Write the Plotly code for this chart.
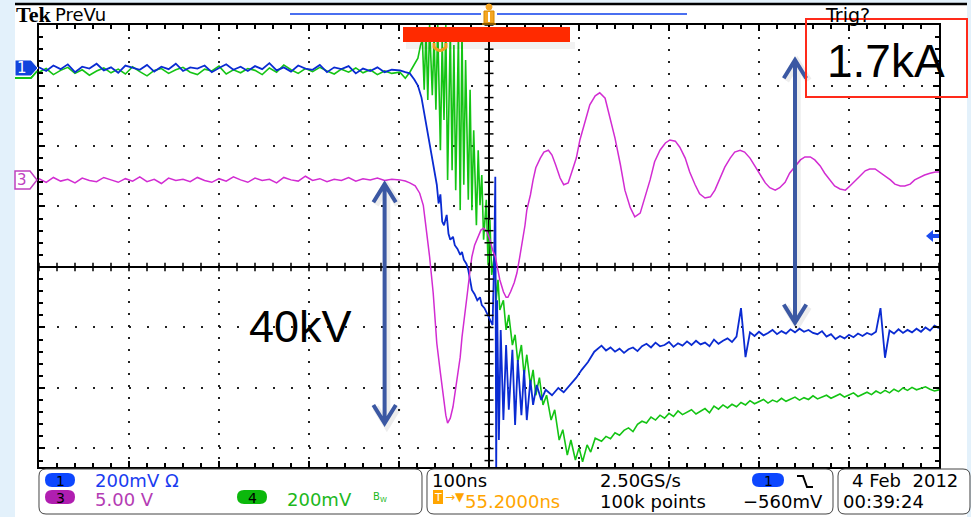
import plotly.graph_objects as go

# ---------------- data: time in ns from screen centre, amplitude in screen divisions ----------------
t_base = list(range(-500, -100, 8))
ch1_base = [3.30, 3.24, 3.33, 3.27, 3.35, 3.22, 3.31, 3.28, 3.36, 3.25,
            3.30, 3.21, 3.33, 3.29, 3.26, 3.34, 3.23, 3.31, 3.27, 3.36,
            3.24, 3.30, 3.28, 3.33, 3.22, 3.29, 3.35, 3.26, 3.31, 3.24,
            3.32, 3.27, 3.37, 3.25, 3.30, 3.23, 3.33, 3.28, 3.26, 3.34,
            3.22, 3.30, 3.27, 3.32, 3.20, 3.28, 3.24, 3.30, 3.22, 3.26]
ch4_base = [3.22, 3.28, 3.18, 3.25, 3.30, 3.20, 3.26, 3.17, 3.24, 3.29,
            3.21, 3.27, 3.19, 3.31, 3.23, 3.16, 3.25, 3.28, 3.20, 3.26,
            3.30, 3.22, 3.18, 3.27, 3.24, 3.32, 3.19, 3.26, 3.21, 3.28,
            3.25, 3.18, 3.29, 3.22, 3.34, 3.26, 3.20, 3.28, 3.23, 3.30,
            3.24, 3.19, 3.27, 3.22, 3.29, 3.21, 3.26, 3.18, 3.24, 3.20]
ch3_base = [1.46, 1.40, 1.48, 1.42, 1.45, 1.39, 1.47, 1.43, 1.41, 1.48,
            1.44, 1.40, 1.46, 1.42, 1.49, 1.41, 1.45, 1.38, 1.47, 1.43,
            1.45, 1.41, 1.48, 1.43, 1.40, 1.46, 1.42, 1.49, 1.44, 1.40,
            1.47, 1.43, 1.45, 1.39, 1.48, 1.44, 1.42, 1.50, 1.43, 1.46,
            1.41, 1.45, 1.43, 1.48, 1.42, 1.46, 1.44, 1.47, 1.43, 1.45]

ch1_t = [-99, -93, -88, -83, -79, -75, -72, -68, -62, -58,
         -56, -54, -52, -50, -47, -45, -43, -40, -38, -35,
         -32, -30, -28, -25, -23, -21, -19, -16, -13, -10,
         -8, -5, -3, -1, 1, 4, 6, 7, 8, 9,
         11, 13, 16, 19, 22, 26, 29, 32, 36, 39,
         42, 46, 49, 53, 58, 63, 70, 77, 83, 90,
         97, 103, 110, 117]
ch1_v = [3.25, 3.22, 3.20, 3.10, 3.00, 2.80, 2.55, 2.18, 1.69, 1.36,
         1.05, 1.20, 0.75, 0.69, 0.86, 0.55, 0.45, 0.50, 0.36, 0.30,
         0.20, 0.25, 0.12, 0.05, -0.05, -0.20, -0.38, -0.45, -0.55, -0.50,
         -0.63, -0.68, -0.74, -0.80, -0.88, -0.96, 0.33, 1.49, -3.40, -0.55,
         -2.86, -1.04, -2.53, -1.29, -2.36, -1.37, -2.61, -1.54, -2.45, -1.70,
         -2.53, -1.87, -2.28, -1.95, -2.20, -2.03, -2.12, -2.00, -2.07, -1.95,
         -1.83, -1.70, -1.57, -1.40]

ch4_t = [-99, -93, -88, -83, -79, -76, -74, -72, -70, -68,
         -66, -63, -61, -59, -57, -54, -52, -50, -48, -46,
         -43, -41, -39, -37, -34, -32, -30, -28, -26, -23,
         -21, -19, -17, -14, -12, -10, -8, -6, -3, -1,
         1, 3, 6, 8, 10, 12, 16, 19, 22, 26,
         29, 32, 36, 39, 42, 46, 49, 52, 56, 60,
         64, 69, 73, 78, 82, 87, 91, 96, 100, 104,
         109, 113, 118]
ch4_v = [3.22, 3.12, 3.22, 3.34, 3.45, 3.67, 3.75, 2.93, 3.92, 2.76,
         4.00, 2.84, 3.83, 2.60, 4.00, 1.93, 3.75, 2.43, 4.00, 1.44,
         3.92, 1.60, 3.67, 1.27, 3.83, 0.94, 3.92, 1.36, 3.42, 1.11,
         2.93, 0.94, 2.26, 0.69, 1.93, 1.02, 1.52, 0.45, 1.11, 0.03,
         0.78, -0.13, 0.20, -0.55, -0.21, -0.71, -0.55, -1.04, -0.79, -1.29,
         -1.12, -1.57, -1.29, -1.79, -1.45, -1.95, -1.70, -2.12, -1.83, -2.28,
         -2.12, -2.53, -2.36, -2.86, -2.69, -3.11, -2.86, -3.19, -2.99, -3.22,
         -2.94, -3.06, -2.83]

t_post = list(range(125, 501, 5))
ch1_post = [-1.30, -1.38, -1.33, -1.40, -1.35, -1.42, -1.36, -1.33, -1.39, -1.31,
            -1.27, -1.33, -1.25, -1.31, -1.29, -1.24, -1.32, -1.26, -1.30, -1.23,
            -1.29, -1.22, -1.28, -1.25, -1.31, -1.20, -1.27, -1.22, -1.18, -1.24,
            -1.15, -0.68, -1.49, -1.08, -1.14, -1.07, -1.13, -1.09, -1.04, -1.11,
            -1.06, -1.10, -1.03, -1.08, -1.02, -1.07, -1.04, -1.09, -1.11, -1.06,
            -1.15, -1.11, -1.19, -1.14, -1.18, -1.12, -1.16, -1.10, -1.14, -1.09,
            -1.12, -1.07, -0.68, -1.50, -1.05, -1.10, -1.03, -1.09, -1.04, -1.08,
            -1.02, -1.07, -1.00, -1.05, -0.97, -1.01]
ch4_post = [-2.88, -2.80, -2.84, -2.74, -2.78, -2.70, -2.66, -2.72, -2.60, -2.55,
            -2.58, -2.48, -2.53, -2.45, -2.50, -2.42, -2.47, -2.38, -2.44, -2.40,
            -2.36, -2.43, -2.38, -2.34, -2.41, -2.30, -2.35, -2.28, -2.33, -2.27,
            -2.31, -2.24, -2.28, -2.21, -2.26, -2.22, -2.19, -2.25, -2.20, -2.23,
            -2.17, -2.22, -2.18, -2.15, -2.20, -2.16, -2.19, -2.13, -2.18, -2.15,
            -2.12, -2.17, -2.14, -2.10, -2.15, -2.11, -2.08, -2.14, -2.10, -2.07,
            -2.11, -2.05, -2.09, -2.04, -2.08, -2.02, -2.06, -2.00, -2.04, -1.99,
            -2.03, -2.00, -1.98, -2.02, -2.05, -2.03]

ch3_t = [-99, -93, -88, -82, -77, -73, -71, -68, -66, -62,
         -60, -58, -54, -51, -48, -46, -43, -40, -37, -34,
         -32, -30, -27, -24, -21, -19, -16, -12, -9, -6,
         -2, 1, 4, 7, 10, 12, 16, 19, 21, 24,
         28, 31, 34, 37, 40, 42, 46, 49, 52, 57,
         61, 66, 70, 74, 79, 83, 88, 92, 97, 101,
         107, 112, 118, 123, 129, 134, 140, 146, 151, 157,
         162, 168, 173, 179, 184, 190, 196, 201, 207, 212,
         218, 223, 229, 234, 240, 246, 251, 257, 262, 268,
         273, 279, 284, 290, 296, 301, 307, 312, 318, 323,
         329, 334, 340, 346, 351, 357, 362, 368, 373, 379,
         384, 390, 396, 401, 407, 412, 418, 423, 429, 434,
         440, 446, 451, 457, 462, 468, 473, 479, 484, 490,
         496, 500]
ch3_v = [1.44, 1.42, 1.39, 1.34, 1.22, 1.02, 0.78, 0.45, 0.17, -0.43,
         -0.84, -1.26, -1.75, -2.15, -2.45, -2.58, -2.50, -2.31, -2.03, -1.75,
         -1.49, -1.16, -0.74, -0.43, -0.05, 0.17, 0.36, 0.50, 0.61, 0.64,
         0.58, 0.45, 0.28, 0.17, -0.05, -0.21, -0.41, -0.50, -0.50, -0.41,
         -0.26, -0.10, 0.15, 0.40, 0.69, 0.94, 1.19, 1.44, 1.64, 1.80,
         1.90, 1.93, 1.85, 1.69, 1.47, 1.36, 1.39, 1.57, 1.80, 2.10,
         2.43, 2.68, 2.83, 2.88, 2.79, 2.51, 2.13, 1.69, 1.27, 0.98,
         0.83, 0.89, 1.14, 1.44, 1.74, 1.93, 2.05, 2.10, 2.08, 1.98,
         1.80, 1.57, 1.36, 1.21, 1.14, 1.16, 1.27, 1.47, 1.65, 1.80,
         1.90, 1.93, 1.90, 1.80, 1.65, 1.52, 1.39, 1.31, 1.27, 1.31,
         1.40, 1.55, 1.67, 1.77, 1.82, 1.82, 1.77, 1.67, 1.55, 1.44,
         1.34, 1.29, 1.27, 1.34, 1.42, 1.50, 1.59, 1.62, 1.62, 1.57,
         1.50, 1.44, 1.37, 1.34, 1.34, 1.37, 1.44, 1.49, 1.52, 1.55,
         1.57, 1.57]

status_top = ["200mV Ω", "100ns", "2.50GS/s", "4 Feb  2012"]
status_bot = ["5.00 V", "200mV", "55.2000ns", "100k points", "−560mV", "00:39:24"]

# ---------------- geometry helpers (page pixels -> paper) ----------------
W, H = 971, 517
PX0, PX1, PY0, PY1 = 39, 939, 25, 467


def px(x):
    return x / W


def py(y):
    return 1 - y / H


def path_px(cmds):
    out = []
    for c in cmds:
        op, nums = c[0], c[1:]
        pts = []
        for i in range(0, len(nums), 2):
            pts.append(f"{px(nums[i]):.5f},{py(nums[i+1]):.5f}")
        out.append(op + " " + " ".join(pts))
    return " ".join(out)


def rrect(x0, y0, x1, y1, r):
    return [("M", x0 + r, y0), ("L", x1 - r, y0), ("Q", x1, y0, x1, y0 + r),
            ("L", x1, y1 - r), ("Q", x1, y1, x1 - r, y1), ("L", x0 + r, y1),
            ("Q", x0, y1, x0, y1 - r), ("L", x0, y0 + r), ("Q", x0, y0, x0 + r, y0), ("Z",)]


shapes = []
annotations = []


def add_path(cmds, fill=None, color=None, width=1, layer="above"):
    shapes.append(dict(type="path", xref="paper", yref="paper", path=path_px(cmds),
                       fillcolor=fill if fill else "rgba(0,0,0,0)",
                       line=dict(color=color if color else "rgba(0,0,0,0)", width=width),
                       layer=layer))


def add_rect(x0, y0, x1, y1, fill=None, color=None, width=1, layer="above"):
    shapes.append(dict(type="rect", xref="paper", yref="paper",
                       x0=px(x0), x1=px(x1), y0=py(y1), y1=py(y0),
                       fillcolor=fill if fill else "rgba(0,0,0,0)",
                       line=dict(color=color if color else "rgba(0,0,0,0)", width=width),
                       layer=layer))


def add_line(x0, y0, x1, y1, color, width, layer="above"):
    shapes.append(dict(type="line", xref="paper", yref="paper",
                       x0=px(x0), x1=px(x1), y0=py(y0), y1=py(y1),
                       line=dict(color=color, width=width), layer=layer))


def add_text(x, y, s, size, color="black", anchor="left", family="DejaVu Sans"):
    annotations.append(dict(x=px(x), y=py(y), xref="paper", yref="paper", text=s,
                            showarrow=False, xanchor=anchor, yanchor="middle",
                            font=dict(size=size, color=color, family=family),
                            borderpad=0))


# ---------------- figure ----------------
fig = go.Figure()

c1, c3, c4 = "#0a2bd2", "#d22cd2", "#14c414"
fig.add_trace(go.Scatter(x=t_base + ch4_t + t_post, y=ch4_base + ch4_v + ch4_post,
                         mode="lines", line=dict(color=c4, width=1.6), hoverinfo="skip"))
fig.add_trace(go.Scatter(x=t_base + ch1_t + t_post, y=ch1_base + ch1_v + ch1_post,
                         mode="lines", line=dict(color=c1, width=1.8), hoverinfo="skip"))
fig.add_trace(go.Scatter(x=t_base + ch3_t, y=ch3_base + ch3_v,
                         mode="lines", line=dict(color=c3, width=1.5), hoverinfo="skip"))

# light-blue page margins around the white scope screen
add_rect(0, 0, 15, 517, fill="#e3f1fb")
add_rect(967, 0, 971, 517, fill="#e3f1fb")
add_rect(0, 0, 971, 3, fill="#e3f1fb")

# centre-line minor ticks (graticule)
for k in range(-25, 26):
    shapes.append(dict(type="line", xref="x", yref="y", x0=k * 20, x1=k * 20, y0=-0.07, y1=0.07,
                       line=dict(color="black", width=1.5), layer="above"))
for k in range(-16, 21):
    shapes.append(dict(type="line", xref="x", yref="y", x0=-5, x1=5, y0=k * 0.2, y1=k * 0.2,
                       line=dict(color="black", width=1.5), layer="above"))

# header
add_line(15, 4, 967, 4, "black", 2.5)
add_text(15, 15, "<b>Tek</b>", 22, family="Liberation Serif")
add_text(54, 14, "PreVu", 18)
add_text(824, 15, "Trig?", 19)
add_line(290, 14, 481, 14, "#4a6ff0", 2)
add_line(497, 14, 687, 14, "#4a6ff0", 2)
shapes.append(dict(type="circle", xref="paper", yref="paper", x0=px(486), x1=px(492),
                   y0=py(10), y1=py(4), fillcolor="#f5a623", line=dict(color="#f5a623", width=1)))
add_rect(484, 11, 494, 23, fill="#f5a623", color="#d88a00", width=1)
add_line(489, 12, 489, 22, "white", 2)
add_line(482, 24, 496, 24, "#8a5a00", 2)

# red bar + shadow, trigger U marker
add_rect(406, 42, 575, 49, fill="rgba(0,0,0,0.05)")
add_rect(403, 27, 570, 42, fill="#ff2a00")
add_path([("M", 434, 43), ("L", 434, 47), ("Q", 440, 54, 446, 47), ("L", 446, 43)],
         color="#f0a020", width=3)

# channel markers on the left, trigger level arrow on the right
add_path([("M", 15, 78), ("L", 31, 78), ("L", 37, 71)], color="#14c414", width=2)
add_path([("M", 15, 60), ("L", 31, 60), ("L", 38, 68), ("L", 31, 76), ("L", 15, 76), ("Z",)],
         fill="#1144dd", color="white", width=1)
add_text(22, 68, "1", 15, "white", anchor="center")
add_path([("M", 15, 171), ("L", 30, 171), ("L", 37, 180), ("L", 30, 189), ("L", 15, 189), ("Z",)],
         fill="white", color="#c040c0", width=1.5)
add_text(22, 180, "3", 15, "#c040c0", anchor="center")
add_path([("M", 926, 236), ("L", 933, 230), ("L", 933, 242), ("Z",)], fill="#1a4cf0")
add_rect(932, 234, 939, 238, fill="#1a4cf0")

# annotation arrows (data coords) with soft shadow
arrow_col = "#3b58a3"
for (xa, ytop, ybot) in [(-116, 1.37, -2.58), (340, 3.42, -0.92)]:
    for off, col, w in [((2.5, -0.04), "rgba(0,0,0,0.07)", 7), ((0, 0), arrow_col, 4)]:
        dx, dy = off
        d = (f"M {xa+dx},{ytop+dy} L {xa+dx},{ybot+dy} "
             f"M {xa-12.5+dx},{ytop-0.30+dy} L {xa+dx},{ytop+dy} L {xa+12.5+dx},{ytop-0.30+dy} "
             f"M {xa-12.5+dx},{ybot+0.30+dy} L {xa+dx},{ybot+dy} L {xa+12.5+dx},{ybot+0.30+dy}")
        shapes.append(dict(type="path", xref="x", yref="y", path=d,
                           line=dict(color=col, width=w), layer="above"))

annotations.append(dict(x=-210, y=-0.99, xref="x", yref="y", text="40kV", showarrow=False,
                        font=dict(size=45, color="black", family="Liberation Sans"),
                        xanchor="center", yanchor="middle"))
add_rect(806, 19, 967, 97, color="#ff2a1a", width=2)
add_text(886, 61, "1.7kA", 46, anchor="center", family="Liberation Sans")

# status bar
add_path(rrect(39, 469, 422, 514, 7), fill="white", color="#444", width=1)
add_path(rrect(427, 469, 833, 514, 7), fill="white", color="#444", width=1)
add_path(rrect(838, 469, 970, 514, 7), fill="white", color="#444", width=1)
for (x0, y0, x1, y1, col, lab) in [(45, 473, 75, 487, "#0d47ff", "1"), (45, 490, 75, 504, "#b01eb0", "3"),
                                    (237, 490, 267, 504, "#0cb80c", "4"), (752, 473, 784, 487, "#0d47ff", "1")]:
    add_path(rrect(x0, y0, x1, y1, 7), fill=col)
    add_text((x0 + x1) / 2, (y0 + y1) / 2 + 1, lab, 14, "black", anchor="center")
add_text(94, 480, status_top[0], 18, "#1a3cf0")
add_text(94, 499, status_bot[0], 18, "#b43cb4")
add_text(286, 499, status_bot[1], 18, "#1db81d")
add_text(372, 497, "B<sub>W</sub>", 10, "#1db81d")
add_text(431, 480, status_top[1], 18)
add_rect(433, 490, 443, 504, fill="#ffa500")
add_text(438, 497, "T", 11, "white", anchor="center")
add_text(444, 497, "→▼", 12, "#ffa500")
add_text(464, 501, status_bot[2], 18, "#ffa500")
add_text(599, 480, status_top[2], 18)
add_text(599, 501, status_bot[3], 18)
add_path([("M", 797, 476), ("L", 803, 476), ("L", 807, 487), ("L", 813, 487)], color="black", width=2)
add_text(742, 501, status_bot[4], 18)
add_text(851, 480, status_top[3], 18)
add_text(842, 501, status_bot[5], 18)

fig.update_layout(
    width=W, height=H, autosize=False, margin=dict(l=0, r=0, t=0, b=0, pad=0),
    paper_bgcolor="white", plot_bgcolor="white", showlegend=False,
    shapes=shapes, annotations=annotations,
    xaxis=dict(domain=[px(PX0), px(PX1)], range=[-500, 500], showticklabels=False,
               dtick=100, tick0=0, ticks="inside", ticklen=6, tickcolor="black", tickwidth=1.5,
               minor=dict(dtick=20, ticks="inside", ticklen=4, tickcolor="black", tickwidth=1.5,
                          showgrid=False),
               showline=True, mirror="ticks", linecolor="black", linewidth=2,
               showgrid=True, gridcolor="#222", gridwidth=2, griddash="2px,10px",
               zeroline=True, zerolinecolor="black", zerolinewidth=1.5, fixedrange=True),
    yaxis=dict(domain=[py(PY1), py(PY0)], range=[-3.306, 4.0], showticklabels=False,
               dtick=1, tick0=0, ticks="inside", ticklen=6, tickcolor="black", tickwidth=1.5,
               minor=dict(dtick=0.2, ticks="inside", ticklen=4, tickcolor="black", tickwidth=1.5,
                          showgrid=False),
               showline=True, mirror="ticks", linecolor="black", linewidth=2,
               showgrid=True, gridcolor="#222", gridwidth=2, griddash="2px,16px",
               zeroline=True, zerolinecolor="black", zerolinewidth=1.5, fixedrange=True),
)

fig.write_html("out.html")
